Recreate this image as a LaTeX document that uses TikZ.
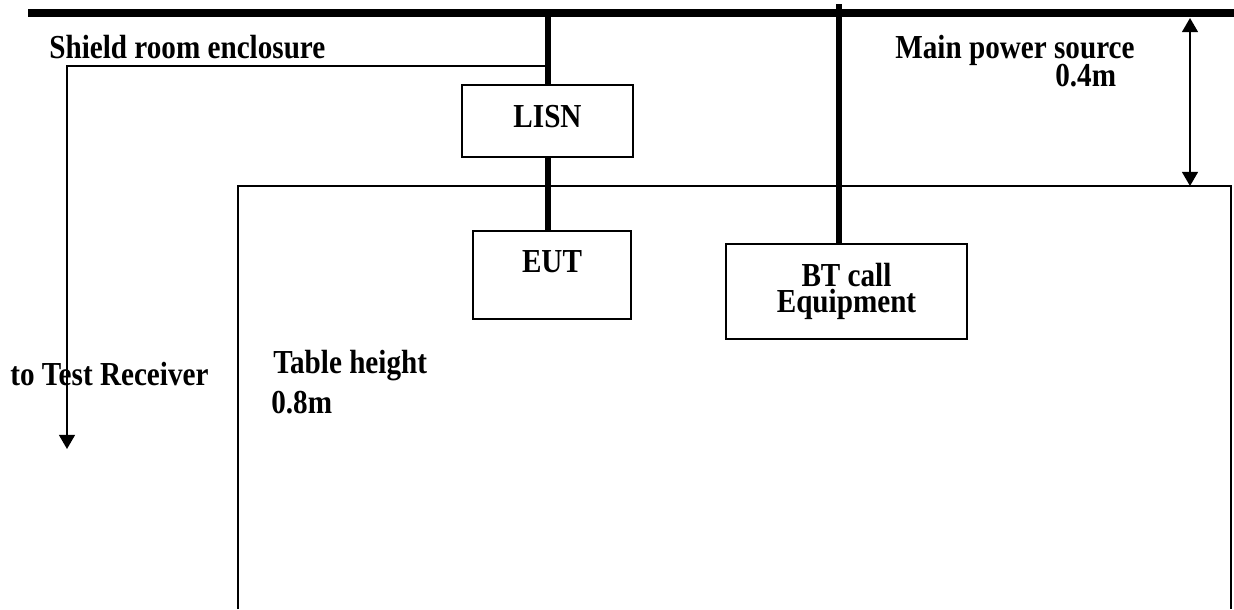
\documentclass[tikz,border=0pt]{standalone}
\usepackage{fontspec}
\setmainfont{Liberation Serif}
\usetikzlibrary{arrows.meta,positioning}
\newcommand{\tallt}[1]{\scalebox{1}[1.15]{#1}}
\tikzset{
  bus/.style={line width=4.5pt},
  feed/.style={line width=3.4pt},
  wire/.style={line width=1pt},
  tip/.style={-{Triangle[length=8pt,width=9pt]}},
  lbl/.style={font=\bfseries\fontsize{16.6}{15}\selectfont,inner sep=0pt},
  unit/.style={draw,line width=1pt,align=center,font=\bfseries\fontsize{16.6}{15}\selectfont}
}

\begin{document}
\begin{tikzpicture}[x=0.02cm,y=-0.02cm]
\useasboundingbox (0,0) rectangle (1234,609);
% power bus and table
\coordinate (busL) at (28,13);
\coordinate (busR) at (1234,13);
\coordinate (lisnfeed) at (548,13);
\coordinate (btfeed) at (839,4);
\coordinate (tap) at (548,66);
\coordinate (rx) at (67,449);
\coordinate (dimT) at (1190,18);
\coordinate (dimB) at (1190,186);
\draw[bus] (busL) -- (busR);
\draw[wire] (238,609) |- (1231,186) -- (1231,609);
% units
\node[unit,minimum width=3.42cm,minimum height=1.44cm,text depth=5.5pt] (lisn) at (547.5,121) {\tallt{LISN}};
\node[unit,minimum width=3.16cm,minimum height=1.76cm,text height=12pt,text depth=15pt] (eut) at (552,275) {\tallt{EUT}};
\node[unit,minimum width=4.82cm,minimum height=1.9cm] (bt) at (846.5,291.5) {\tallt{BT call}\\\tallt{Equipment}};
% connections
\draw[feed] (lisnfeed) -- (lisnfeed |- lisn.north);
\draw[feed] (lisnfeed |- lisn.south) -- (lisnfeed |- eut.north);
\draw[feed] (btfeed) -- (btfeed |- bt.north);
\draw[wire,tip] (tap) -| (rx);
\draw[wire,{Triangle[length=8pt,width=9pt]}-{Triangle[length=8pt,width=9pt]}] (dimT) -- (dimB);
% labels
\node[lbl,anchor=base west] (shield) at (49,58) {\tallt{Shield room enclosure}};
\node[lbl,anchor=base west] (pwr) at (895,58) {\tallt{Main power source}};
\node[lbl,anchor=base west] (gap) at (1055,86) {\tallt{0.4m}};
\node[lbl,anchor=base west] (recv) at (10,385) {\tallt{to Test Receiver}};
\node[lbl,anchor=base west] (tblh) at (273,373) {\tallt{Table height}};
\node[lbl,anchor=base west] (tblv) at (271,413) {\tallt{0.8m}};
\end{tikzpicture}
\end{document}
